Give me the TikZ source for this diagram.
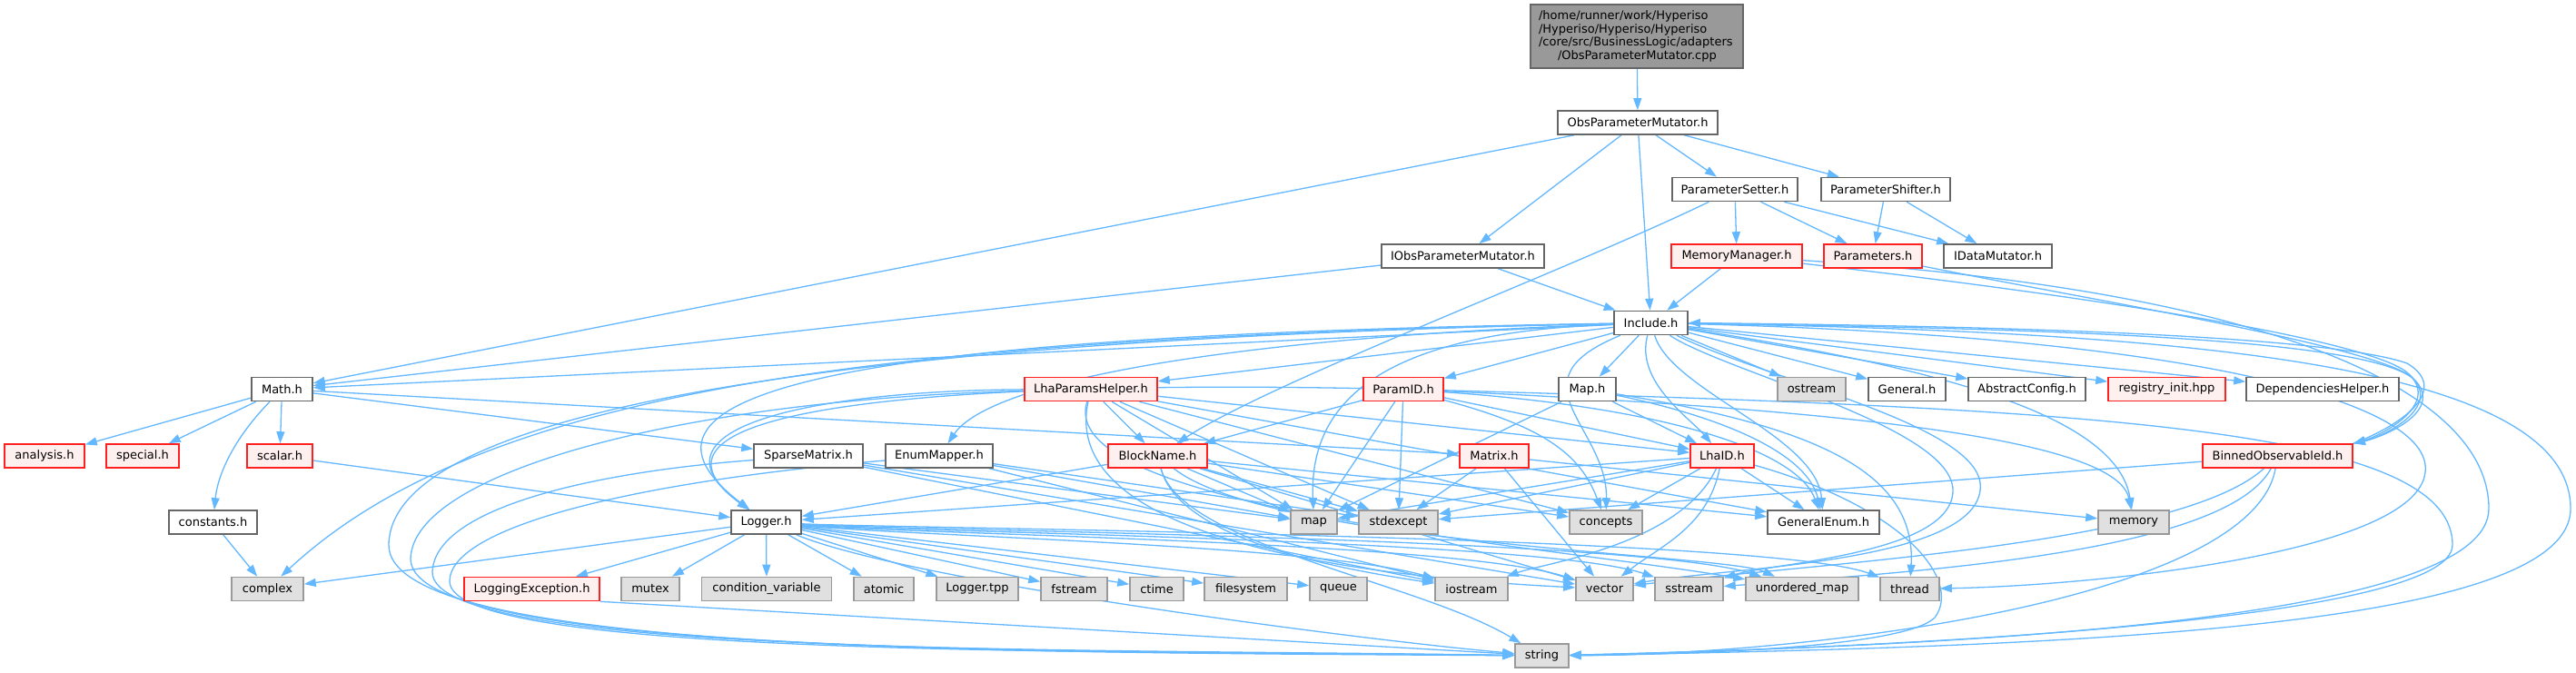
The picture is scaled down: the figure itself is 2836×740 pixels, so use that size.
\documentclass[tikz,border=0pt]{standalone}
\usepackage{fontspec}
\setmainfont{DejaVu Sans}
\usetikzlibrary{arrows.meta}
\pgfdeclarelayer{edgelayer}
\pgfsetlayers{edgelayer,main}
\definecolor{edgec}{HTML}{63B8FF}
\definecolor{grey40}{HTML}{666666}
\definecolor{c999}{HTML}{999999}
\definecolor{cE0}{HTML}{E0E0E0}
\definecolor{cFFF0F0}{HTML}{FFF0F0}
\definecolor{cred}{HTML}{FF2020}
\tikzset{
  box/.style={draw=grey40, fill=white, line width=1.6pt, minimum height=26pt, inner sep=0pt,
              font=\fontsize{13}{14.7}\selectfont},
  sys/.style={box, draw=c999, fill=cE0},
  trunc/.style={box, draw=cred, fill=cFFF0F0},
  rootbox/.style={box, draw=grey40, fill=c999},
  e/.style={draw=edgec, line width=1.3pt, -{Triangle[length=13pt,width=9pt]}},
}
\begin{document}
\begin{tikzpicture}[x=1pt,y=-1pt]
\useasboundingbox (0,0) rectangle (2836,740);

% ---------- nodes ----------
\node[rootbox, minimum width=234pt, minimum height=70pt, text width=216pt, align=left] (root) at (1802,40)
 {/home/runner/work/Hyperiso\\/Hyperiso/Hyperiso/Hyperiso\\/core/src/BusinessLogic/adapters\\\hspace*{21pt}/ObsParameterMutator.cpp};
\node[box, minimum width=176pt] (OPM) at (1803,135) {ObsParameterMutator.h};
\node[box, minimum width=138pt] (PSet) at (1910,208.5) {ParameterSetter.h};
\node[box, minimum width=142pt] (PShift) at (2076,208.5) {ParameterShifter.h};
\node[box, minimum width=179pt] (IOPM) at (1610.5,282) {IObsParameterMutator.h};
\node[trunc, minimum width=144pt] (MM) at (1912,282) {MemoryManager.h};
\node[trunc, minimum width=108pt] (Params) at (2062,282) {Parameters.h};
\node[box, minimum width=119pt] (IDM) at (2199.5,282) {IDataMutator.h};
\node[box, minimum width=81pt] (Inc) at (1817.5,355.5) {Include.h};

\node[box, minimum width=67pt] (Math) at (310.5,428.5) {Math.h};
\node[trunc, minimum width=146pt] (LPH) at (1201,428.5) {LhaParamsHelper.h};
\node[trunc, minimum width=88pt] (PID) at (1545,428.5) {ParamID.h};
\node[box, minimum width=63pt] (MapH) at (1747.5,428.5) {Map.h};
\node[sys, minimum width=75pt] (ostream) at (1994.5,428.5) {ostream};
\node[box, minimum width=85pt] (General) at (2099.5,428.5) {General.h};
\node[box, minimum width=129pt] (AbsCfg) at (2231.5,428.5) {AbstractConfig.h};
\node[trunc, minimum width=129pt] (regi) at (2385.5,428.5) {registry\_init.hpp};
\node[box, minimum width=168pt] (Deps) at (2557,428.5) {DependenciesHelper.h};

\node[trunc, minimum width=88pt] (analysis) at (49,502) {analysis.h};
\node[trunc, minimum width=80pt] (special) at (157,502) {special.h};
\node[trunc, minimum width=72pt] (scalar) at (308,502) {scalar.h};
\node[box, minimum width=120pt] (Sparse) at (890,502) {SparseMatrix.h};
\node[box, minimum width=118pt] (EnumM) at (1034,502) {EnumMapper.h};
\node[trunc, minimum width=109pt] (Block) at (1274.5,502) {BlockName.h};
\node[trunc, minimum width=76pt] (Matrix) at (1645,502) {Matrix.h};
\node[trunc, minimum width=70pt] (LhaID) at (1896,502) {LhaID.h};
\node[trunc, minimum width=165pt] (Binned) at (2507.5,502) {BinnedObservableId.h};

\node[box, minimum width=97pt] (constants) at (234.5,575) {constants.h};
\node[box, minimum width=77pt] (Logger) at (843.5,575) {Logger.h};
\node[sys, minimum width=51pt] (map) at (1446.5,575) {map};
\node[sys, minimum width=87pt] (stdexc) at (1539.5,575) {stdexcept};
\node[sys, minimum width=80pt] (concepts) at (1768,575) {concepts};
\node[box, minimum width=123pt] (GenEnum) at (2007.5,575) {GeneralEnum.h};
\node[sys, minimum width=78pt] (memory) at (2349,575) {memory};

\node[sys, minimum width=79pt] (complex) at (294.5,648.5) {complex};
\node[trunc, minimum width=149pt] (LogExc) at (585.5,648.5) {LoggingException.h};
\node[sys, minimum width=64pt] (mutex) at (716,648.5) {mutex};
\node[sys, minimum width=143pt] (condvar) at (844,648.5) {condition\_variable};
\node[sys, minimum width=66pt] (atomic) at (973,648.5) {atomic};
\node[sys, minimum width=90pt] (Ltpp) at (1076,648.5) {Logger.tpp};
\node[sys, minimum width=73pt] (fstream) at (1182.5,648.5) {fstream};
\node[sys, minimum width=59pt] (ctime) at (1273.5,648.5) {ctime};
\node[sys, minimum width=91pt] (filesys) at (1371.5,648.5) {filesystem};
\node[sys, minimum width=63pt] (queue) at (1473.5,648.5) {queue};
\node[sys, minimum width=80pt] (iostream) at (1620,648.5) {iostream};
\node[sys, minimum width=63pt] (vector) at (1766.5,648.5) {vector};
\node[sys, minimum width=75pt] (sstream) at (1859.5,648.5) {sstream};
\node[sys, minimum width=124pt] (umap) at (1984,648.5) {unordered\_map};
\node[sys, minimum width=65pt] (thread) at (2102.5,648.5) {thread};
\node[sys, minimum width=59pt] (string) at (1697.5,722) {string};

% ---------- edges ----------
\begin{pgfonlayer}{edgelayer}
\fill[white] (0,0) rectangle (2836,740);
\draw[e] (root) -- (OPM);
\draw[e] (OPM) -- (Math);
\draw[e] (OPM) -- (IOPM);
\draw[e] (OPM) -- (Inc);
\draw[e] (OPM) -- (PSet);
\draw[e] (OPM) -- (PShift);
\draw[e] (IOPM) -- (Math);
\draw[e] (IOPM) -- (Inc);
\draw[e] (PSet) -- (MM);
\draw[e] (PSet) -- (Params);
\draw[e] (PSet) -- (IDM);
\draw[e] (PSet) .. controls (1720,300) and (1400,420) .. (Block);
\draw[e] (PShift) -- (Params);
\draw[e] (PShift) -- (IDM);
\draw[e] (MM) -- (Inc);
\draw[e] (MM) .. controls (2250,320) and (2600,370) .. (2650,410) .. controls (2690,445) and (2620,480) .. (Binned.north east);
\draw[e] (Params) .. controls (2300,330) and (2610,380) .. (2655,415) .. controls (2690,450) and (2620,482) .. (Binned.north east);
\draw[e] (MM) .. controls (2500,320) and (2740,430) .. (2740,560) .. controls (2740,680) and (2200,710) .. (string);

% Include.h
\draw[e] (Inc) -- (Math);
\draw[e] (Inc) -- (LPH);
\draw[e] (Inc) -- (PID);
\draw[e] (Inc) -- (MapH);
\draw[e] (Inc) -- (ostream);
\draw[e] (Inc) -- (General);
\draw[e] (Inc) -- (AbsCfg);
\draw[e] (Inc) -- (regi);
\draw[e] (Inc) -- (Deps);
\draw[e] (Inc) .. controls (1350,372) and (1090,420) .. (EnumM);
\draw[e] (Inc) .. controls (1000,368) and (640,420) .. (Logger);
\draw[e] (Inc) .. controls (1560,365) and (1440,420) .. (map);
\draw[e] (Inc) .. controls (1660,420) and (1770,470) .. (concepts);
\draw[e] (Inc) .. controls (1840,430) and (2000,480) .. (GenEnum);
\draw[e] (Inc) .. controls (1800,420) and (1860,460) .. (LhaID);
\draw[e] (Inc) .. controls (2100,400) and (2330,450) .. (memory);
\draw[e] (Inc) .. controls (1000,372) and (540,420) .. (complex);
\draw[e] (Inc) .. controls (1950,420) and (2190,470) .. (2180,540) .. controls (2170,620) and (1900,625) .. (vector);
\draw[e] (Inc) .. controls (1900,410) and (2150,470) .. (2150,540) .. controls (2150,610) and (1950,620) .. (sstream);
\draw[e] (Inc) .. controls (2400,365) and (2830,400) .. (2830,560) .. controls (2830,690) and (2300,712) .. (string);
\draw[e] (Inc) .. controls (2400,370) and (2680,440) .. (2670,520) .. controls (2660,610) and (2300,645) .. (thread);
\draw[e] (Inc) .. controls (2300,362) and (2620,375) .. (2660,420) .. controls (2690,455) and (2620,482) .. (Binned.north east);
\draw[e] (Binned.north east) .. controls (2640,470) and (2700,430) .. (2650,400) .. controls (2550,365) and (2100,358) .. (Inc.east);
\draw[e] (Inc) .. controls (1000,372) and (430,440) .. (428,600) .. controls (428,720) and (1100,718) .. (string);

% LhaParamsHelper.h
\draw[e] (LPH) -- (Block);
\draw[e] (LPH) .. controls (900,430) and (700,470) .. (Logger);
\draw[e] (LPH) -- (map);
\draw[e] (LPH) -- (stdexc);
\draw[e] (LPH) -- (concepts);
\draw[e] (LPH) -- (GenEnum);
\draw[e] (LPH) -- (LhaID);
\draw[e] (LPH) .. controls (1170,570) and (1400,630) .. (vector);
\draw[e] (LPH) .. controls (1160,560) and (1700,600) .. (umap);
\draw[e] (LPH) .. controls (750,440) and (455,520) .. (452,615) .. controls (452,722) and (1150,716) .. (string);

% ParamID.h
\draw[e] (PID) -- (Block);
\draw[e] (PID) -- (LhaID);
\draw[e] (PID) -- (map);
\draw[e] (PID) -- (stdexc);
\draw[e] (PID) .. controls (1700,470) and (1740,500) .. (concepts);
\draw[e] (PID) .. controls (1850,450) and (1980,500) .. (GenEnum);
\draw[e] (PID) .. controls (1100,420) and (660,440) .. (Logger);
\draw[e] (PID) .. controls (2000,450) and (2330,480) .. (memory);
\draw[e] (PID) .. controls (2300,450) and (2700,470) .. (2700,600) .. controls (2700,690) and (2000,715) .. (string);

% Map.h
\draw[e] (MapH) -- (LhaID);
\draw[e] (MapH) -- (map);
\draw[e] (MapH) .. controls (1900,460) and (1990,500) .. (GenEnum);
\draw[e] (MapH) .. controls (2000,470) and (2110,520) .. (thread);

% Math.h
\draw[e] (Math) -- (analysis);
\draw[e] (Math) -- (special);
\draw[e] (Math) -- (scalar);
\draw[e] (Math) .. controls (260,480) and (240,520) .. (constants);
\draw[e] (Math) -- (Sparse);
\draw[e] (Math) -- (Matrix);
\draw[e] (scalar) -- (Logger);
\draw[e] (constants) -- (complex);

% SparseMatrix.h / EnumMapper.h
\draw[e] (Sparse) -- (map);
\draw[e] (Sparse) -- (iostream);
\draw[e] (Sparse) -- (vector);
\draw[e] (Sparse) .. controls (650,520) and (478,560) .. (476,630) .. controls (476,724) and (1200,714) .. (string);
\draw[e] (EnumM) -- (map);
\draw[e] (EnumM) -- (stdexc);
\draw[e] (EnumM) -- (iostream);
\draw[e] (EnumM) .. controls (700,530) and (495,580) .. (495,640) .. controls (495,726) and (1250,716) .. (string);

% BlockName.h
\draw[e] (Block) -- (Logger);
\draw[e] (Block) -- (map);
\draw[e] (Block) -- (stdexc);
\draw[e] (Block) -- (concepts);
\draw[e] (Block) -- (GenEnum);
\draw[e] (Block) .. controls (1300,600) and (1500,630) .. (iostream);
\draw[e] (Block) -- (vector);
\draw[e] (Block) .. controls (1300,600) and (1560,640) .. (string);
\draw[e] (Block) .. controls (1400,600) and (1900,610) .. (umap);

% Matrix.h
\draw[e] (Matrix) -- (stdexc);
\draw[e] (Matrix) -- (vector);
\draw[e] (Matrix) -- (memory);

% LhaID.h
\draw[e] (LhaID) -- (Logger);
\draw[e] (LhaID) -- (map);
\draw[e] (LhaID) -- (stdexc);
\draw[e] (LhaID) -- (concepts);
\draw[e] (LhaID) -- (GenEnum);
\draw[e] (LhaID) .. controls (1880,580) and (1830,600) .. (vector);
\draw[e] (LhaID) .. controls (1850,600) and (1700,620) .. (iostream);
\draw[e] (LhaID) .. controls (2100,560) and (2160,640) .. (2130,680) .. controls (2100,710) and (1900,720) .. (string);

% BinnedObservableId.h
\draw[e] (Binned) -- (stdexc);
\draw[e] (Binned) .. controls (2400,600) and (2000,620) .. (vector);
\draw[e] (Binned) .. controls (2450,610) and (2100,630) .. (sstream);
\draw[e] (Binned) .. controls (2480,660) and (2000,720) .. (string);

% Logger.h
\draw[e] (Logger) -- (complex);
\draw[e] (Logger) -- (LogExc);
\draw[e] (Logger) -- (mutex);
\draw[e] (Logger) -- (condvar);
\draw[e] (Logger) -- (atomic);
\draw[e] (Logger) -- (Ltpp);
\draw[e] (Logger) -- (fstream);
\draw[e] (Logger) -- (ctime);
\draw[e] (Logger) -- (filesys);
\draw[e] (Logger) -- (queue);
\draw[e] (Logger) .. controls (1000,590) and (1450,600) .. (iostream);
\draw[e] (Logger) .. controls (1000,588) and (1600,596) .. (vector);
\draw[e] (Logger) .. controls (1000,586) and (1700,594) .. (sstream);
\draw[e] (Logger) .. controls (1000,584) and (1800,592) .. (umap);
\draw[e] (Logger) .. controls (1000,582) and (1950,590) .. (thread);
\draw[e] (Logger) .. controls (1000,640) and (1500,705) .. (string);
\draw[e] (LogExc.south east) -- (string);
\end{pgfonlayer}
\end{tikzpicture}
\end{document}
